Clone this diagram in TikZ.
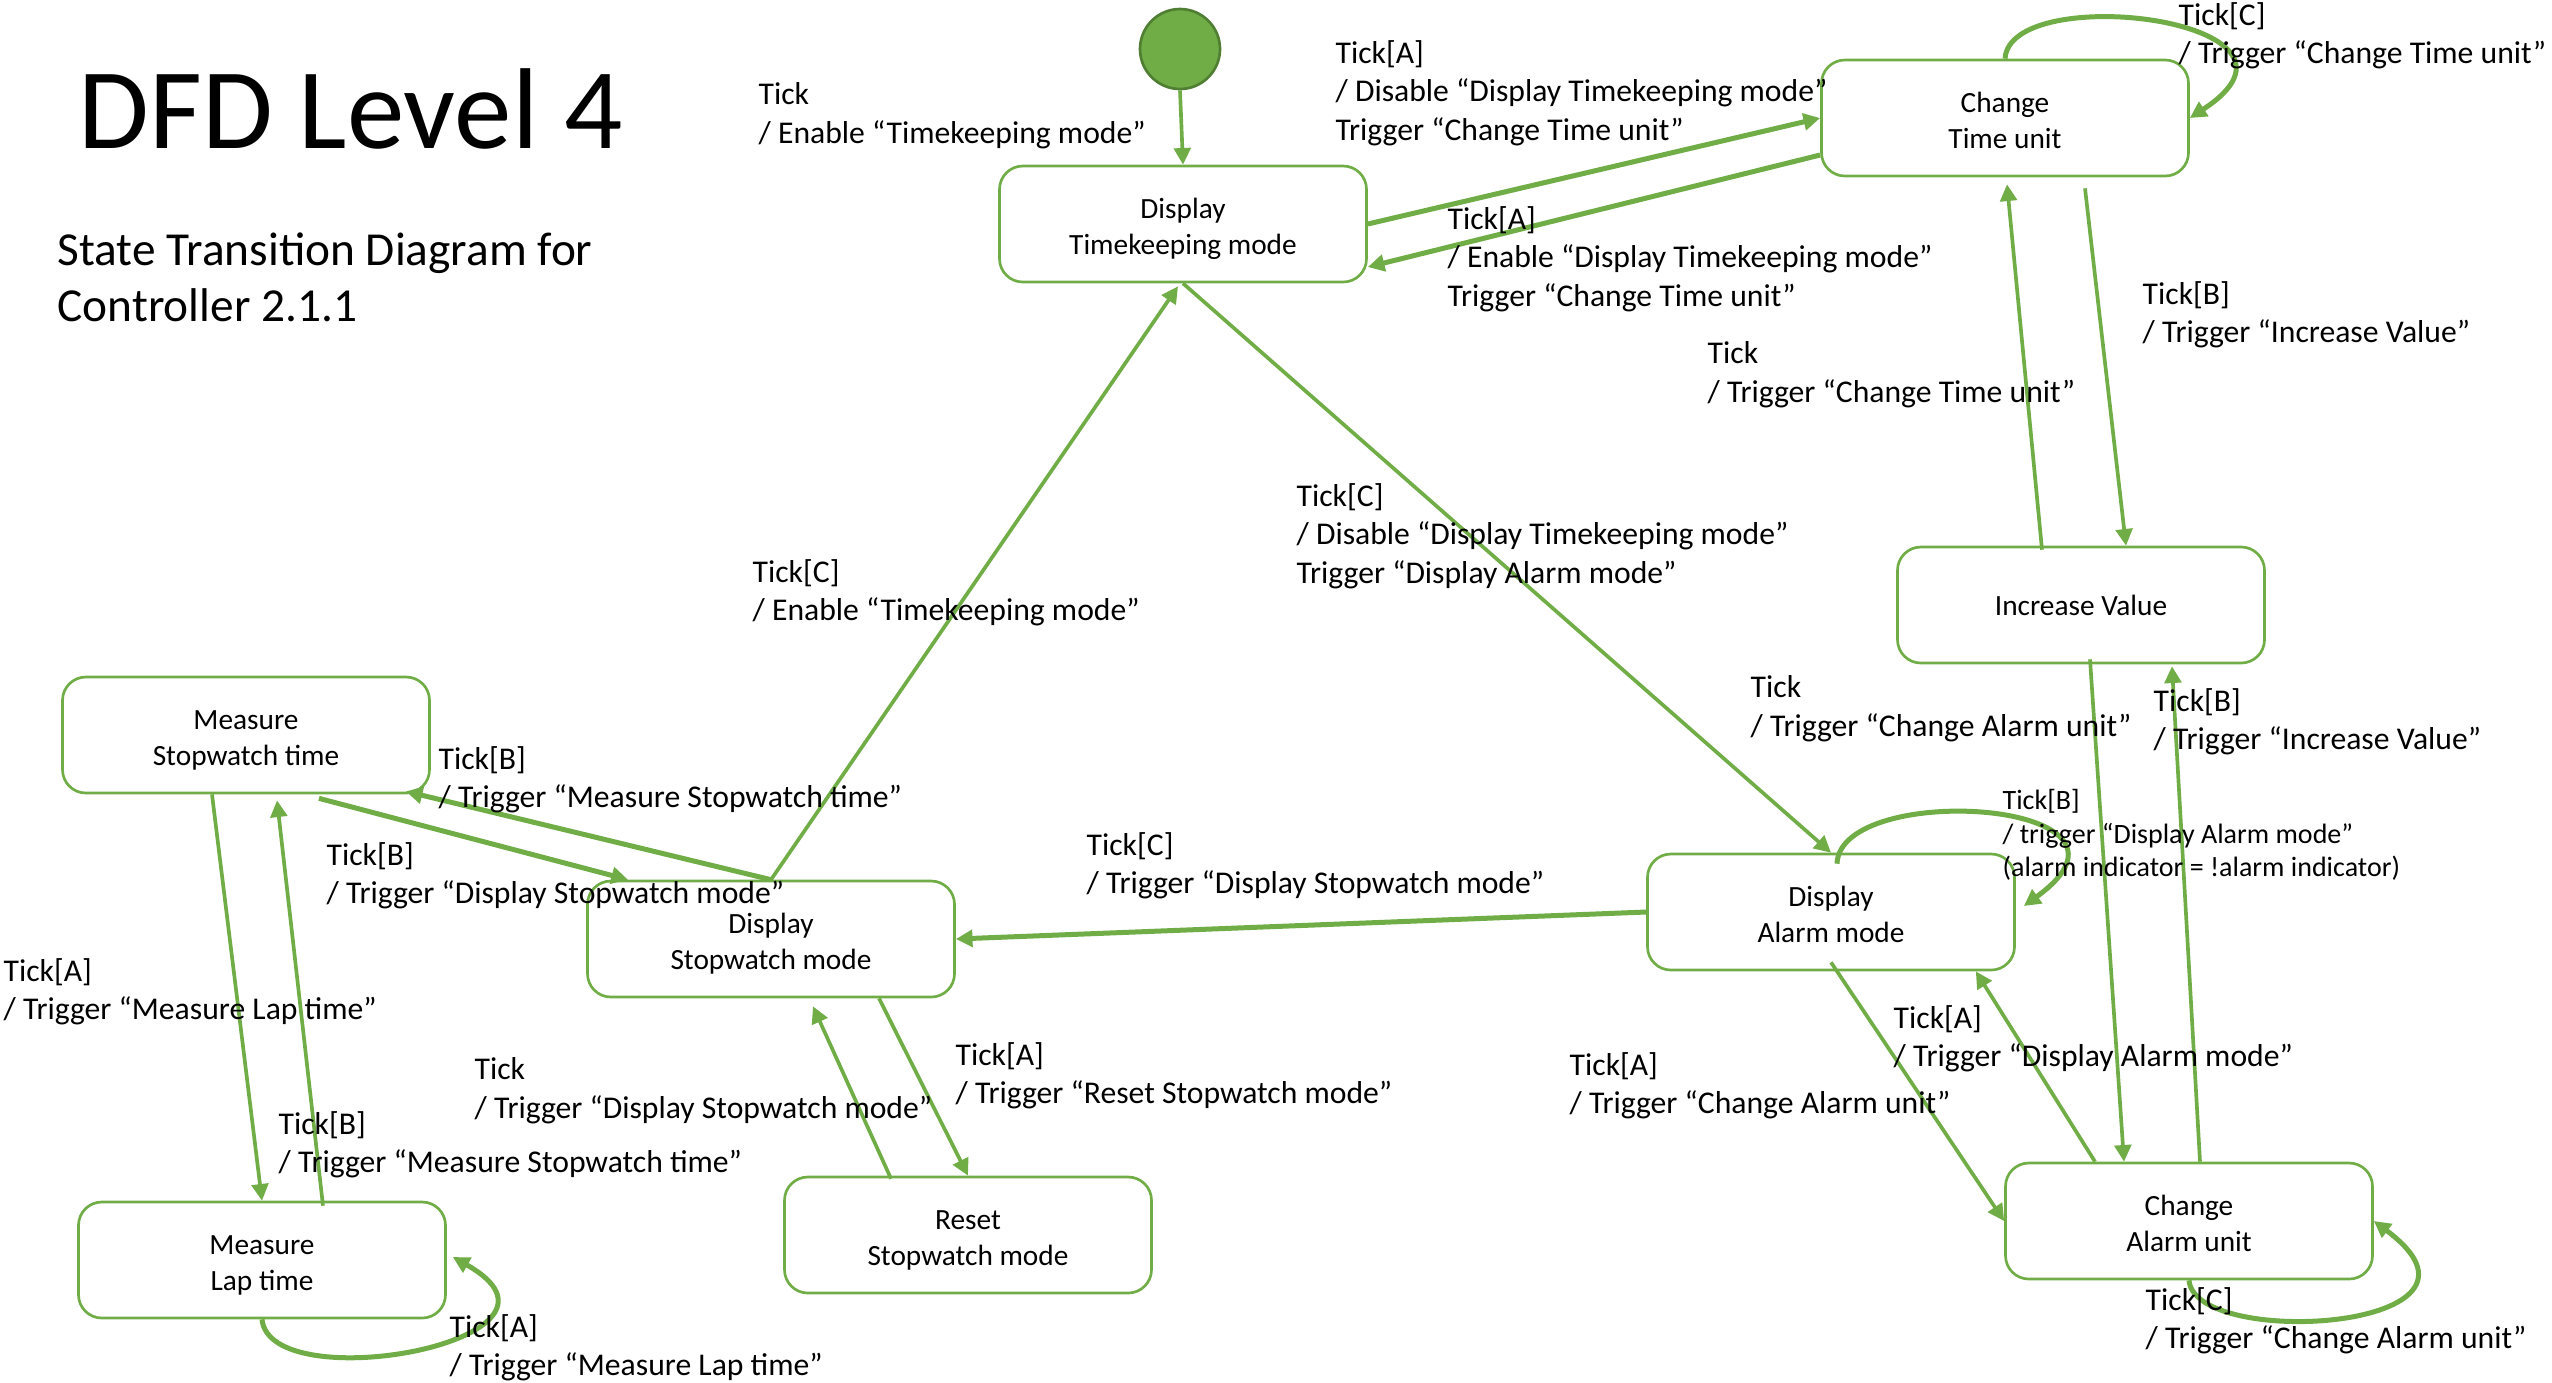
\documentclass[tikz,border=0pt]{standalone}
\usepackage{fontspec}
\setmainfont{Carlito}
\usetikzlibrary{arrows.meta,calc}
\definecolor{og}{HTML}{70AD47}
\definecolor{ogd}{HTML}{507E32}
\newcommand{\twoln}[2]{\raisebox{-9pt}[0pt][0pt]{\vbox{\baselineskip=10.7pt\lineskiplimit=-20pt\halign{\hfil##\hfil\cr#1\cr#2\cr}}}}
\begin{document}
\begin{tikzpicture}[x=0.3pt,y=-0.3pt,
 state/.style={draw=og, line width=0.8pt, rounded corners=7pt, minimum width=110.1pt, minimum height=34.8pt, font=\fontsize{8.8}{10.7}\selectfont, inner sep=0pt},
 lbl/.style={anchor=north west, align=left, inner sep=0pt, font=\fontsize{9.5}{11.5}\selectfont},
 tr/.style={draw=og, line width=1.1pt, -{Triangle[length=5pt,width=5pt]}},
 trb/.style={tr, line width=1.5pt},
]
\useasboundingbox (0,0) rectangle (2552,1382);

% title
\node[anchor=base west, inner sep=0pt, font=\fontsize{34.5}{40}\selectfont] (title) at (78,148) {DFD Level 4};
\node[anchor=base west, inner sep=0pt, align=left, font=\fontsize{14.2}{16.8}\selectfont] (sub) at (57,321) {State Transition Diagram for\\Controller 2.1.1};

% states
\node[circle, fill=og, draw=ogd, line width=0.8pt, minimum size=24pt, inner sep=0pt] (init) at (1180,49) {};
\node[state] (dtk) at (1183,224) {\twoln{Display}{Timekeeping mode}};
\node[state] (ctu) at (2005,118) {\twoln{Change}{Time unit}};
\node[state] (iv)  at (2081,605) {Increase Value};
\node[state] (mst) at (246,735) {\twoln{Measure}{Stopwatch time}};
\node[state] (dsm) at (771,939) {\twoln{Display}{Stopwatch mode}};
\node[state] (dam) at (1831,912) {\twoln{Display}{Alarm mode}};
\node[state] (mlt) at (262,1260) {\twoln{Measure}{Lap time}};
\node[state] (rsm) at (968,1235) {\twoln{Reset}{Stopwatch mode}};
\node[state] (cau) at (2189,1221) {\twoln{Change}{Alarm unit}};

% transitions
\draw[tr] (init.south) -- (dtk.north);
\draw[trb] (dtk.east) -- (ctu.west);
\draw[trb] ($(ctu.west)+(0,37)$) -- ($(dtk.east)+(0,43)$);
\draw[trb] (ctu.north) .. controls (2010,-20) and (2340,20) .. (ctu.east);
\draw[tr] ($(ctu.south)+(80,11)$) -- ($(iv.north)+(45,0)$);
\draw[tr] ($(iv.north)+(-39,4)$) -- ($(ctu.south)+(2,7)$);
\draw[tr] (dtk.south) -- (dam.north);
\draw[tr] (dsm.north) -- ($(dtk.south)+(-5,3)$);
\draw[trb] (dam.west) -- (dsm.east);
\draw[trb] ($(dam.north)+(6,11)$) .. controls (1840,780) and (2170,800) .. ($(dam.east)+(8,-6)$);
\draw[tr] ($(dam.south)+(0,-9)$) -- (cau.west);
\draw[tr] ($(cau.north)+(-94,0)$) -- ($(dam.south east)+(-40,0)$);
\draw[tr] ($(iv.south)+(9,-5)$) -- ($(cau.north)+(-65,0)$);
\draw[tr] ($(cau.north)+(11,0)$) -- ($(iv.south)+(91,2)$);
\draw[trb] (cau.south) .. controls (2195,1350) and (2520,1330) .. (cau.east);
\draw[trb] (dsm.north) -- ($(mst.south east)+(-25,-3)$);
\draw[trb] ($(mst.south)+(73,4)$) -- ($(dsm.north)+(-143,0)$);
\draw[tr] ($(mst.south)+(-34,0)$) -- (mlt.north);
\draw[tr] ($(mlt.north)+(61,5)$) -- ($(mst.south)+(31,6)$);
\draw[tr] ($(dsm.south)+(108,0)$) -- (rsm.north);
\draw[tr] ($(rsm.north)+(-77,3)$) -- ($(dsm.south)+(42,8)$);
\draw[trb] (mlt.south) .. controls (270,1400) and (600,1340) .. ($(mlt.east)+(6,-3)$);

% labels (anchored at top-left of the first line)
\node[lbl] (l1) at (758,82) {Tick\\/ Enable “Timekeeping mode”};
\node[lbl] (l2) at (1335,40) {Tick[A]\\/ Disable “Display Timekeeping mode”\\Trigger “Change Time unit”};
\node[lbl] (l3) at (1447,206) {Tick[A]\\/ Enable “Display Timekeeping mode”\\Trigger “Change Time unit”};
\node[lbl] (l4) at (2178,2) {Tick[C]\\/ Trigger “Change Time unit”};
\node[lbl] (l5) at (2142,281) {Tick[B]\\/ Trigger “Increase Value”};
\node[lbl] (l6) at (1707,341) {Tick\\/ Trigger “Change Time unit”};
\node[lbl] (l7) at (1296,483) {Tick[C]\\/ Disable “Display Timekeeping mode”\\Trigger “Display Alarm mode”};
\node[lbl] (l8) at (752,559) {Tick[C]\\/ Enable “Timekeeping mode”};
\node[lbl] (l9) at (1750,675) {Tick\\/ Trigger “Change Alarm unit”};
\node[lbl] (l10) at (2153,688) {Tick[B]\\/ Trigger “Increase Value”};
\node[lbl, font=\fontsize{8.4}{10}\selectfont] (l11) at (2002,789) {Tick[B]\\/ trigger “Display Alarm mode"\\(alarm indicator = !alarm indicator)};
\node[lbl] (l12) at (1086,832) {Tick[C]\\/ Trigger “Display Stopwatch mode”};
\node[lbl] (l13) at (438,746) {Tick[B]\\/ Trigger “Measure Stopwatch time”};
\node[lbl] (l14) at (326,842) {Tick[B]\\/ Trigger “Display Stopwatch mode”};
\node[lbl] (l15) at (3,958) {Tick[A]\\/ Trigger “Measure Lap time”};
\node[lbl] (l16) at (474,1057) {Tick\\/ Trigger “Display Stopwatch mode”};
\node[lbl] (l17) at (278,1111) {Tick[B]\\/ Trigger “Measure Stopwatch time”};
\node[lbl] (l18) at (955,1042) {Tick[A]\\/ Trigger “Reset Stopwatch mode”};
\node[lbl] (l19) at (449,1314) {Tick[A]\\/ Trigger “Measure Lap time”};
\node[lbl] (l20) at (1569,1052) {Tick[A]\\/ Trigger “Change Alarm unit”};
\node[lbl] (l21) at (1893,1005) {Tick[A]\\/ Trigger “Display Alarm mode”};
\node[lbl] (l22) at (2145,1287) {Tick[C]\\/ Trigger “Change Alarm unit”};
\end{tikzpicture}
\end{document}
